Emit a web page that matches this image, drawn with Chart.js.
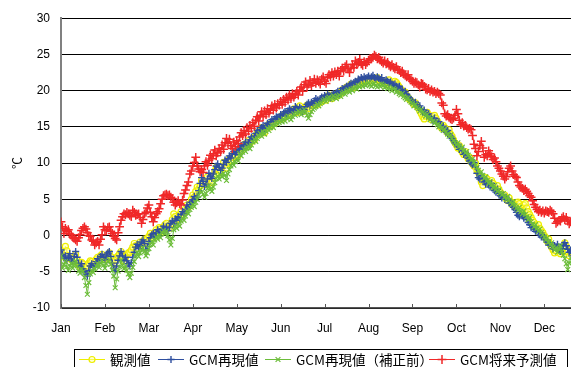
<!DOCTYPE html>
<html><head><meta charset="utf-8">
<script src="https://cdn.jsdelivr.net/npm/chart.js@4.4.1/dist/chart.umd.min.js"></script>
<style>html,body{margin:0;padding:0;overflow:hidden;background:#fff}#wrap{width:600px;height:375px}</style>
</head><body><div id="wrap"><canvas id="c" width="600" height="375"></canvas></div>
<script>
const monthNames = ['Jan','Feb','Mar','Apr','May','Jun','Jul','Aug','Sep','Oct','Nov','Dec'];
const monthTickDays = [0,30,60,90,120,150,180,210,240,270,300,330];
const yTickValues = [-10,-5,0,5,10,15,20,25,30];
const seriesNames = ['観測値','GCM再現値','GCM再現値（補正前）','GCM将来予測値'];

const obs = [
-2.6,-2.9,-2.2,-1.5,-2.1,-2.8,-3.2,-2.9,-3.5,-3.1,-2.6,-3.4,-4.1,-4.3,-3.7,-3.9,-4.4,-4.6,-4.2,-3.8,-3.5,-3.6,-4.0,-3.7,-3.3,-3.0,-3.4,-2.8,-2.6,-3.1,-3.3,
-3.0,-2.7,-2.4,-2.9,-3.6,-3.9,-3.4,-3.0,-2.8,-2.5,-2.2,-2.9,-3.5,-3.1,-2.7,-2.4,-2.3,-2.0,-1.6,-1.1,-1.4,-1.8,-1.3,-0.9,-1.2,-0.8,-0.5,
-0.9,-0.4,-0.1,0.3,0.0,-0.3,0.4,0.8,0.5,1.1,0.9,0.6,1.2,1.5,1.7,1.3,1.0,1.6,2.2,3.0,2.6,2.1,2.4,2.9,3.3,2.8,3.1,3.7,4.2,3.9,4.4,
5.0,5.6,5.3,6.1,6.7,6.4,6.9,7.6,7.2,7.0,7.5,8.1,7.4,6.9,7.3,8.2,8.9,9.4,9.0,8.6,8.8,9.5,10.1,9.7,9.3,10.0,10.6,10.3,10.8,11.2,
11.0,11.4,11.1,12.0,11.7,12.2,12.6,12.3,12.8,13.1,12.7,13.0,13.5,13.2,13.8,14.2,13.9,14.4,14.9,14.5,14.2,14.8,15.1,15.4,15.0,15.3,15.7,15.5,15.9,16.1,
16.0,16.3,16.6,16.2,16.5,16.9,16.7,17.0,16.8,17.2,17.5,17.3,17.0,17.6,17.9,17.4,17.1,17.3,17.7,18.0,17.8,17.5,17.9,18.2,18.0,18.4,18.1,18.3,18.6,18.5,
18.8,19.0,18.7,19.2,19.4,19.1,18.9,19.3,19.5,19.2,19.6,19.4,19.8,20.1,19.9,20.2,20.5,20.3,20.6,20.9,20.7,20.4,20.8,21.1,21.2,21.0,21.3,21.5,21.2,21.4,
21.3,21.6,21.4,21.7,21.5,21.2,21.6,21.8,21.5,21.3,21.1,21.4,21.0,20.8,21.2,21.5,20.9,20.7,21.0,21.3,21.1,20.8,20.5,20.2,20.0,19.6,19.8,19.3,19.0,18.8,18.6,
18.4,18.1,18.3,17.9,17.6,17.2,16.8,16.4,16.1,16.5,17.0,16.7,16.3,16.0,16.4,16.6,16.2,15.8,15.5,15.1,14.8,15.2,14.9,14.5,14.2,14.6,14.0,13.7,13.2,12.8,
12.5,12.1,12.4,11.8,11.5,11.2,11.6,11.0,10.6,10.8,10.2,9.9,9.6,10.0,9.0,8.7,8.2,7.4,6.9,7.5,8.0,7.8,7.3,7.1,7.6,7.2,6.8,6.5,6.9,6.4,
6.0,5.7,5.4,5.6,5.1,4.8,5.2,4.7,4.3,4.5,3.9,4.2,4.6,4.4,4.0,3.7,4.2,4.4,3.8,3.3,2.9,2.5,2.1,1.8,1.4,1.1,1.5,1.0,0.7,0.4,
0.0,-0.3,-0.8,-0.5,-1.2,-1.6,-2.0,-2.4,-2.1,-1.7,-1.9,-2.5,-2.2,-1.6,-1.0,-1.5,-2.3,-2.8,-2.4,-2.0,-2.6,-3.0,-2.7,-2.3,-2.5,-2.9,-3.1,-2.6,-2.2,-2.5,-2.8,-3.0,-2.7,-2.4,-2.6
];

const gcm = [
-2.0,-2.6,-3.1,-2.8,-3.4,-3.0,-2.5,-3.2,-3.6,-2.9,-2.2,-3.0,-3.8,-4.3,-3.9,-4.6,-5.0,-5.3,-5.6,-4.8,-4.2,-3.9,-4.4,-4.2,-3.6,-3.2,-3.5,-2.9,-2.6,-3.0,-3.3,
-2.7,-2.4,-2.2,-2.9,-3.8,-4.5,-4.9,-4.2,-3.4,-2.8,-2.2,-2.8,-3.4,-3.0,-3.5,-3.9,-4.2,-3.7,-3.0,-2.3,-1.6,-1.2,-1.8,-1.4,-0.9,-0.6,-1.1,
-2.0,-1.5,-0.8,-0.3,0.1,0.3,-0.2,0.4,0.8,0.5,0.3,0.9,1.3,0.8,1.2,0.7,1.1,1.7,2.0,1.6,2.3,2.1,2.6,2.2,2.9,3.3,3.0,3.6,4.2,3.8,4.3,
4.6,4.9,5.4,5.1,5.3,6.2,7.2,8.0,7.5,6.8,7.1,7.8,8.6,8.2,7.9,8.5,9.1,9.6,9.9,9.4,9.0,9.3,9.8,10.4,10.1,10.6,11.0,10.7,11.3,11.6,
11.2,11.5,11.9,12.1,12.4,12.0,12.6,12.9,12.5,12.8,13.2,13.6,13.3,13.7,14.1,14.5,14.2,14.6,14.9,15.2,14.8,15.1,15.5,15.3,15.7,16.0,15.8,16.1,16.4,16.2,
16.4,16.7,16.5,16.9,17.1,16.8,17.2,17.5,17.3,17.0,17.4,17.8,17.6,17.3,17.7,17.5,17.1,17.4,17.8,18.1,18.3,18.0,18.4,18.2,18.6,18.9,18.7,18.5,18.9,19.1,
19.0,19.3,19.1,19.5,19.3,19.0,19.4,19.6,19.3,19.7,19.9,19.6,20.0,20.3,20.1,20.4,20.6,20.4,20.8,21.0,20.8,21.1,21.3,21.1,21.6,21.5,21.8,21.6,21.9,21.7,
21.8,22.0,21.7,21.9,22.1,21.8,21.6,21.9,21.7,21.5,21.8,21.4,21.2,21.5,21.3,21.0,21.2,20.9,20.7,20.9,20.6,20.4,20.6,20.2,20.0,19.7,19.9,19.5,19.2,19.0,18.7,
18.5,18.2,18.4,18.0,17.7,17.9,17.4,17.1,17.3,16.9,16.6,16.8,16.4,16.1,15.9,16.2,15.8,15.5,15.7,15.2,14.9,15.1,14.6,14.3,14.5,14.0,13.7,13.4,13.1,12.8,
12.6,12.3,11.9,12.2,11.7,11.2,11.5,11.0,10.7,10.3,10.0,9.8,10.1,9.5,8.6,8.0,7.8,8.3,7.9,7.4,7.1,7.5,7.0,6.7,7.2,6.6,6.2,6.0,6.4,5.8,
5.5,5.2,5.6,5.0,5.3,4.9,4.5,4.7,4.2,3.9,3.6,3.2,2.8,2.6,3.0,2.7,2.4,2.6,2.2,1.8,1.5,1.1,1.3,0.9,0.6,0.8,0.4,0.1,-0.2,0.0,
-0.3,-0.6,-0.9,-1.3,-1.0,-1.5,-1.8,-1.4,-1.6,-1.2,-1.9,-2.2,-1.8,-1.3,-1.0,-1.4,-1.9,-2.3,-2.0,-2.5,-2.8,-2.4,-2.1,-2.6,-2.9,-2.5,-2.2,-2.7,-3.0,-2.6,-2.4,-2.8,-3.1,-2.7,-2.5
];

const gcmRaw = [
-2.8,-4.5,-4.0,-3.6,-4.3,-4.8,-4.2,-3.8,-4.5,-4.0,-3.5,-4.2,-4.9,-5.2,-4.6,-5.0,-5.8,-6.9,-8.1,-6.5,-5.3,-4.8,-5.1,-4.6,-4.2,-3.9,-4.4,-3.8,-3.5,-4.1,-4.5,
-3.9,-3.6,-3.3,-4.0,-4.8,-5.6,-7.2,-6.0,-4.9,-4.3,-3.4,-4.1,-4.6,-4.2,-4.8,-5.3,-5.8,-5.2,-4.4,-3.6,-2.8,-2.3,-2.9,-2.4,-2.0,-1.7,-2.2,
-2.8,-2.4,-1.8,-1.2,-0.8,-1.3,-0.6,-0.2,-0.5,0.1,-0.3,0.4,0.7,0.2,0.6,0.0,-0.6,-1.3,-0.4,0.8,1.3,1.0,1.6,1.3,2.0,2.4,2.1,2.7,3.4,3.0,3.6,
3.9,4.3,4.0,4.6,5.0,5.6,6.3,6.0,5.7,5.3,5.8,6.5,6.9,6.4,6.1,6.7,7.3,7.9,8.2,7.8,8.4,8.1,8.6,8.3,7.6,8.5,9.1,9.6,10.0,9.7,
10.2,10.6,10.3,11.3,11.0,11.5,11.9,11.6,12.1,12.4,12.0,12.5,12.9,13.3,13.0,13.4,13.8,14.1,13.7,14.3,14.0,14.4,14.8,14.5,14.9,15.2,14.9,15.3,15.6,15.4,
15.6,15.9,15.7,16.1,15.8,16.2,16.5,16.3,16.0,16.4,16.8,16.6,16.9,17.2,17.0,16.7,17.1,17.4,17.0,16.6,16.2,16.7,17.1,17.4,17.6,17.8,18.1,17.9,18.2,18.4,
18.6,18.8,18.5,18.9,19.1,18.8,19.0,19.3,19.1,18.9,19.2,19.4,19.2,19.6,19.8,19.5,19.9,20.1,19.8,20.2,20.0,20.3,20.5,20.2,20.7,20.5,20.8,20.6,20.9,20.7,
20.9,21.1,20.8,20.6,20.9,21.0,20.7,20.5,20.8,20.6,20.9,20.7,20.4,20.6,20.3,20.5,20.2,20.0,20.3,20.1,19.8,19.9,19.6,19.4,19.6,19.2,19.0,18.8,19.0,18.6,18.4,
18.2,17.9,18.1,17.7,17.5,17.2,17.4,17.0,16.8,16.5,16.7,16.3,16.0,16.2,15.8,15.5,15.7,15.3,15.0,15.2,14.8,14.5,14.7,14.3,14.0,13.7,13.9,13.4,13.1,12.8,
12.5,12.8,12.3,12.0,12.2,11.7,11.4,11.6,11.1,10.8,10.4,10.6,10.1,9.7,9.4,9.0,8.6,8.8,8.3,7.9,8.1,7.6,7.2,7.5,7.0,6.6,6.9,6.4,6.1,6.3,
5.9,5.6,5.8,5.3,5.0,5.4,4.9,4.6,4.3,4.7,4.1,3.8,3.5,3.9,3.3,3.0,3.4,2.9,2.6,2.2,2.5,1.9,1.6,1.2,1.5,1.0,0.6,0.9,0.4,0.1,
-0.2,-0.6,-0.3,-0.9,-1.3,-1.0,-1.6,-2.0,-1.7,-2.3,-1.9,-1.4,-2.2,-2.7,-3.2,-3.9,-4.7,-3.8,-3.1,-3.5,-3.9,-3.4,-3.0,-3.6,-4.0,-3.5,-3.1,-3.7,-4.1,-3.6,-3.3,-3.8,-4.2,-3.7,-3.4
];

const gcmFuture = [
1.9,1.2,0.3,1.0,0.6,0.8,0.2,0.1,-0.2,-0.4,-0.6,-0.8,-0.3,0.1,0.7,1.0,1.2,0.9,0.4,0.0,-0.1,-0.6,-0.8,-1.3,-1.0,-0.8,-1.3,-0.5,0.1,1.2,0.8,
0.7,1.1,1.2,0.6,0.3,-0.1,-0.4,-0.6,0.4,1.2,2.1,2.6,3.0,2.9,3.2,3.0,2.8,2.6,3.5,3.2,2.8,2.9,3.0,2.5,1.7,2.2,3.0,
3.2,3.8,4.2,3.2,2.6,1.9,2.5,3.0,3.3,3.7,4.4,5.0,5.5,5.6,5.7,5.5,5.6,5.3,5.1,4.6,4.2,4.5,4.8,4.4,4.2,4.9,5.8,6.3,6.9,7.4,8.5,
8.9,9.6,10.1,10.8,9.6,9.2,8.8,9.1,8.7,9.6,10.2,9.7,10.4,11.1,10.6,11.3,11.8,11.0,11.4,12.0,11.6,12.5,11.9,12.8,13.4,12.7,13.3,12.4,12.0,12.9,
12.3,13.1,12.7,13.6,14.2,13.8,14.5,14.0,14.9,14.4,15.2,14.8,15.6,15.1,15.9,16.4,15.8,16.6,17.1,16.4,17.2,16.7,17.5,16.9,17.4,17.9,17.3,18.1,17.6,18.2,
18.0,18.5,18.1,18.8,18.4,19.1,18.7,19.4,18.9,19.6,19.1,19.5,19.9,19.4,20.1,20.5,19.9,20.8,21.2,20.5,20.9,21.4,20.7,21.1,21.6,21.0,21.5,21.2,20.9,21.6,
21.9,21.3,21.0,21.8,22.2,21.9,22.5,22.0,22.6,22.2,22.7,22.0,22.8,23.1,22.7,23.3,23.6,23.0,22.5,23.1,23.6,23.2,24.1,23.6,23.9,24.3,23.7,23.5,24.0,23.6,
23.9,24.2,24.4,24.4,24.6,24.9,24.7,24.4,24.6,24.2,24.0,23.8,24.1,23.7,23.9,23.5,23.3,23.6,23.2,23.0,23.3,22.9,22.8,22.5,22.7,22.3,22.1,21.9,22.2,21.7,21.5,
21.3,21.0,21.2,21.1,20.8,20.5,21.0,20.9,20.6,20.2,20.1,20.3,19.9,20.1,19.8,19.9,19.6,19.8,19.6,19.4,18.3,18.0,16.8,16.5,16.7,16.3,16.1,16.0,16.2,16.6,
17.4,16.8,15.9,15.3,15.6,15.1,15.2,14.9,14.7,14.8,14.6,13.8,12.6,12.0,11.0,11.6,12.4,13.0,12.1,10.8,11.2,11.0,11.7,11.3,10.9,10.5,10.7,10.2,9.6,9.3,
8.9,8.5,8.2,7.8,8.1,8.8,9.3,9.6,8.9,8.4,8.2,8.0,7.4,6.9,6.7,6.5,6.2,6.4,6.1,5.8,5.5,5.3,4.8,4.3,3.9,3.6,3.3,3.5,3.2,3.4,
3.1,3.4,3.3,3.2,3.5,3.3,3.0,2.4,1.7,1.9,2.1,2.0,2.4,2.6,2.2,2.5,2.0,1.6,1.9,2.3,1.8,1.5,1.9,2.2,1.7,1.4,1.8,2.1,1.6,1.3,1.7,2.0,1.6,1.3,1.8
];

const toXY = arr => arr.map((v, i) => ({x: i, y: v}));

const styles = [
  {color:'#eeee00', point:'circle', r:3, pbw:1.2, bg:'rgba(255,255,170,0.5)', order:4},
  {color:'#2f4f9f', point:'cross', r:3.6, pbw:1.4, bg:'#2f4f9f', order:3},
  {color:'#6cbd3a', point:'crossRot', r:3.4, pbw:1.2, bg:'#6cbd3a', order:2},
  {color:'#f02828', point:'cross', r:4.4, pbw:1.5, bg:'#f02828', order:1}
];
const seriesData = [obs, gcm, gcmRaw, gcmFuture];

const datasets = seriesData.map((arr, i) => ({
  label: seriesNames[i],
  data: toXY(arr),
  borderColor: styles[i].color,
  backgroundColor: styles[i].bg,
  borderWidth: 1,
  pointStyle: styles[i].point,
  pointRadius: styles[i].r,
  pointBorderWidth: styles[i].pbw,
  pointBorderColor: styles[i].color,
  pointBackgroundColor: styles[i].bg,
  tension: 0,
  order: styles[i].order
}));

const innerTicks = {
  id: 'innerTicks',
  afterDraw(chart) {
    const xs = chart.scales.x, ctx = chart.ctx, b = chart.chartArea.bottom;
    ctx.save();
    ctx.strokeStyle = '#555'; ctx.lineWidth = 1;
    xs.ticks.forEach(t => {
      const px = Math.round(xs.getPixelForValue(t.value)) + 0.5;
      ctx.beginPath(); ctx.moveTo(px, b - 4); ctx.lineTo(px, b); ctx.stroke();
    });
    ctx.restore();
  }
};

const boxLegend = {
  id: 'boxLegend',
  afterDraw(chart, args, opts) {
    const ctx = chart.ctx;
    ctx.save();
    ctx.strokeStyle = '#000'; ctx.lineWidth = 1;
    ctx.strokeRect(opts.left + 0.5, opts.top + 0.5, opts.width, opts.height);
    const y = opts.rowY;
    chart.data.datasets.forEach((ds, i) => {
      const x0 = opts.itemX[i];
      ctx.strokeStyle = ds.borderColor; ctx.lineWidth = 1;
      ctx.beginPath(); ctx.moveTo(x0, y + 0.5); ctx.lineTo(x0 + opts.lineLen, y + 0.5); ctx.stroke();
      ctx.fillStyle = ds.pointBackgroundColor; ctx.strokeStyle = ds.borderColor;
      ctx.lineWidth = ds.pointBorderWidth;
      Chart.helpers.drawPoint(ctx, {pointStyle: ds.pointStyle, radius: ds.pointRadius, borderWidth: ds.pointBorderWidth, rotation: 0}, x0 + opts.lineLen / 2, y + 0.5);
      ctx.fillStyle = '#000';
      ctx.font = opts.font;
      ctx.textBaseline = 'middle';
      ctx.textAlign = 'left';
      ctx.fillText(ds.label, x0 + opts.lineLen + 5, y + 1);
    });
    ctx.restore();
  }
};

new Chart(document.getElementById('c'), {
  type: 'line',
  data: { datasets },
  plugins: [innerTicks, boxLegend],
  options: {
    responsive: false,
    animation: false,
    events: [],
    layout: { padding: { top: 15, right: 4, bottom: 37, left: 0 } },
    plugins: {
      legend: { display: false },
      tooltip: { enabled: false },
      boxLegend: {
        left: 74, top: 349, width: 493, height: 30, rowY: 359,
        itemX: [79, 158, 265, 429], lineLen: 26,
        font: '13.5px "Noto Sans CJK JP"'
      }
    },
    scales: {
      x: {
        type: 'linear', min: 0, max: 364, offset: false,
        afterBuildTicks: s => { s.ticks = monthTickDays.map(v => ({ value: v })); },
        afterFit: s => { s.height = 30; },
        grid: { display: false, drawTicks: false },
        border: { display: true, color: '#555', width: 1.5 },
        ticks: {
          autoSkip: false, maxRotation: 0, padding: 13, color: '#000',
          font: { family: '"Liberation Sans", Arial, sans-serif', size: 12 },
          callback: v => monthNames[monthTickDays.indexOf(v)]
        }
      },
      y: {
        type: 'linear', min: -10, max: 30,
        afterBuildTicks: s => { s.ticks = yTickValues.map(v => ({ value: v })); },
        afterFit: s => { s.width = 61; },
        grid: { color: '#000', lineWidth: 1, drawTicks: false },
        border: { display: true, color: '#808080', width: 2 },
        ticks: {
          padding: 11, color: '#000',
          font: { family: '"Liberation Sans", Arial, sans-serif', size: 12 }
        },
        title: {
          display: true, text: '℃', color: '#000',
          font: { family: '"Noto Sans CJK JP"', size: 12 },
          padding: { top: 10, bottom: 0 }
        }
      }
    }
  }
});
</script>
</body></html>
